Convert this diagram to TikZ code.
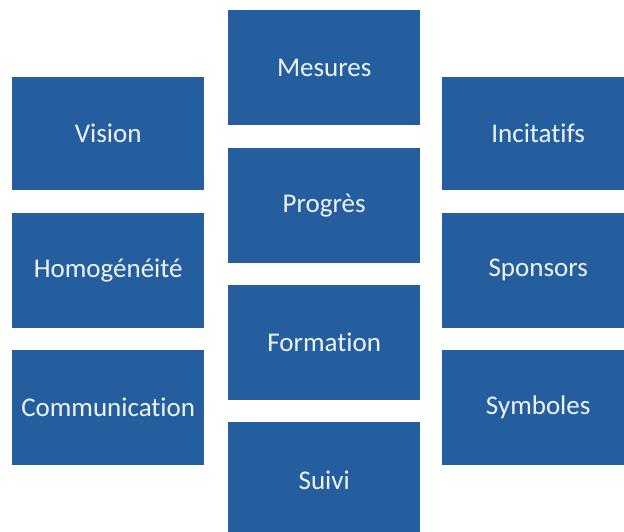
\documentclass[tikz,border=0pt]{standalone}
\usepackage{fontspec}
\setmainfont[Ligatures=NoCommon]{Carlito}
\usetikzlibrary{positioning}
\definecolor{tileblue}{HTML}{255E9F}
\definecolor{tiletext}{HTML}{EEF3F8}

\begin{document}
\begin{tikzpicture}[
    x=1pt, y=1pt,
    node distance=22pt and 22pt,
    every node/.style={font=\fontsize{27}{31}\selectfont},
    tile/.style={rectangle, fill=tileblue, text=tiletext, inner sep=0pt,
      minimum width=192pt, minimum height=115pt}
  ]
  \useasboundingbox (0,0) rectangle (624,-531);

  % centre column
  \node[tile, anchor=north west] (mesures) at (228,-10) {Mesures};
  \node[tile, below=of mesures] (progres) {Progrès};
  \node[tile, below=of progres] (formation) {Formation};
  \node[tile, below=of formation] (suivi) {Suivi};

  % left column
  \node[tile, anchor=north west, minimum height=113pt] (vision) at (12,-77) {Vision};
  \node[tile, below=of vision] (homog) {Homogénéité};
  \node[tile, below=of homog] (comm) {Communication};

  % right column
  \node[tile, anchor=north west, minimum height=113pt] (incit) at (442,-77) {Incitatifs};
  \node[tile, below=of incit] (sponsors) {Sponsors};
  \node[tile, below=of sponsors] (symboles) {Symboles};

\end{tikzpicture}
\end{document}
